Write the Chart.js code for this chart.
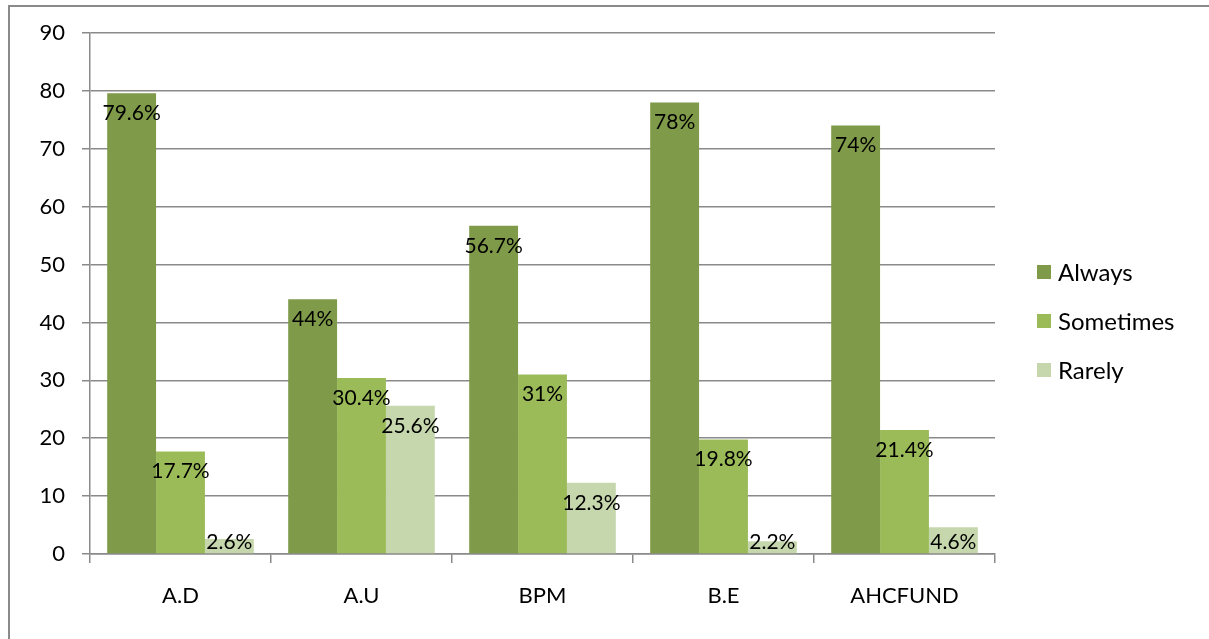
<!DOCTYPE html>
<html>
<head>
<meta charset="utf-8">
<script src="https://cdn.jsdelivr.net/npm/chart.js@4"></script>
<style>
  body { margin: 0; background: #fff; overflow: hidden; }
  #frame { position: absolute; left: 8px; top: 5px; width: 1400px; height: 800px;
           border-left: 2px solid #8a8a8a; border-top: 2px solid #8a8a8a; }
  #wrap { position: absolute; left: 0; top: 0; width: 1209px; height: 639px; }
  #legend { position: absolute; left: 1037px; top: 258px; font: 24px Lato, "Open Sans", sans-serif; color: #000; }
  #legend .item { height: 49px; display: flex; align-items: flex-start; }
  #legend .box { width: 14px; height: 14px; margin-top: 7px; margin-right: 7px; }
  #legend .txt { line-height: 28px; }
</style>
</head>
<body>
<div id="frame"></div>
<div id="wrap"><canvas id="chart"></canvas></div>
<div id="legend"></div>
<script>
// categories and series
const categories = ['A.D', 'A.U', 'BPM', 'B.E', 'AHCFUND'];
const always = [79.6, 44, 56.7, 78, 74];
const sometimes = [17.7, 30.4, 31, 19.8, 21.4];
const rarely = [2.6, 25.6, 12.3, 2.2, 4.6];
const yTicks = [0, 10, 20, 30, 40, 50, 60, 70, 80, 90];

const FONT = 'Lato, "Open Sans", sans-serif';

// labels drawn just inside the bar top, like the Excel "inside end" option
const barLabels = {
    id: 'barLabels',
    afterDatasetsDraw(chart) {
        const ctx = chart.ctx;
        const base = chart.scales.y.getPixelForValue(0);
        ctx.save();
        ctx.font = '21px ' + FONT;
        ctx.fillStyle = '#000';
        ctx.textAlign = 'center';
        ctx.textBaseline = 'middle';
        chart.data.datasets.forEach((ds, i) => {
            chart.getDatasetMeta(i).data.forEach((bar, j) => {
                const y = Math.min(bar.y + 20, base - 12);
                ctx.fillText(ds.data[j] + '%', bar.x, y);
            });
        });
        ctx.restore();
    }
};

const ctx = document.getElementById('chart').getContext('2d');
const chart = new Chart(ctx, {
    type: 'bar',
    data: {
        labels: categories,
        datasets: [
            { label: 'Always', data: always, backgroundColor: '#7f9a48' },
            { label: 'Sometimes', data: sometimes, backgroundColor: '#9bbb59' },
            { label: 'Rarely', data: rarely, backgroundColor: '#c7d7ad' }
        ]
    },
    options: {
        responsive: true,
        maintainAspectRatio: false,
        animation: false,
        datasets: { bar: { barPercentage: 1, categoryPercentage: 0.81 } },
        layout: { padding: { top: 33, right: 214, left: 0, bottom: 0 } },
        plugins: {
            tooltip: { enabled: false },
            legend: { display: false }
        },
        scales: {
            x: {
                grid: { offset: true, drawOnChartArea: false, tickLength: 9, color: '#8a8a8a', lineWidth: 1.5 },
                border: { color: '#8a8a8a', width: 1.5 },
                ticks: { font: { family: FONT, size: 22 }, color: '#000', padding: 20 },
                afterFit(scale) { scale.height = 85; }
            },
            y: {
                min: 0,
                max: 90,
                afterBuildTicks(scale) { scale.ticks = yTicks.map(v => ({ value: v })); },
                grid: { color: '#8a8a8a', lineWidth: 1.5, tickLength: 8 },
                border: { color: '#8a8a8a', width: 1.5 },
                ticks: { font: { family: FONT, size: 22 }, color: '#000', padding: 17 },
                afterFit(scale) { scale.width = 90; }
            }
        }
    },
    plugins: [barLabels]
});

// legend built from the chart's datasets
const legend = document.getElementById('legend');
chart.data.datasets.forEach(ds => {
    const row = document.createElement('div');
    row.className = 'item';
    row.innerHTML = '<div class="box" style="background:' + ds.backgroundColor + '"></div><div class="txt">' + ds.label + '</div>';
    legend.appendChild(row);
});
</script>
</body>
</html>
